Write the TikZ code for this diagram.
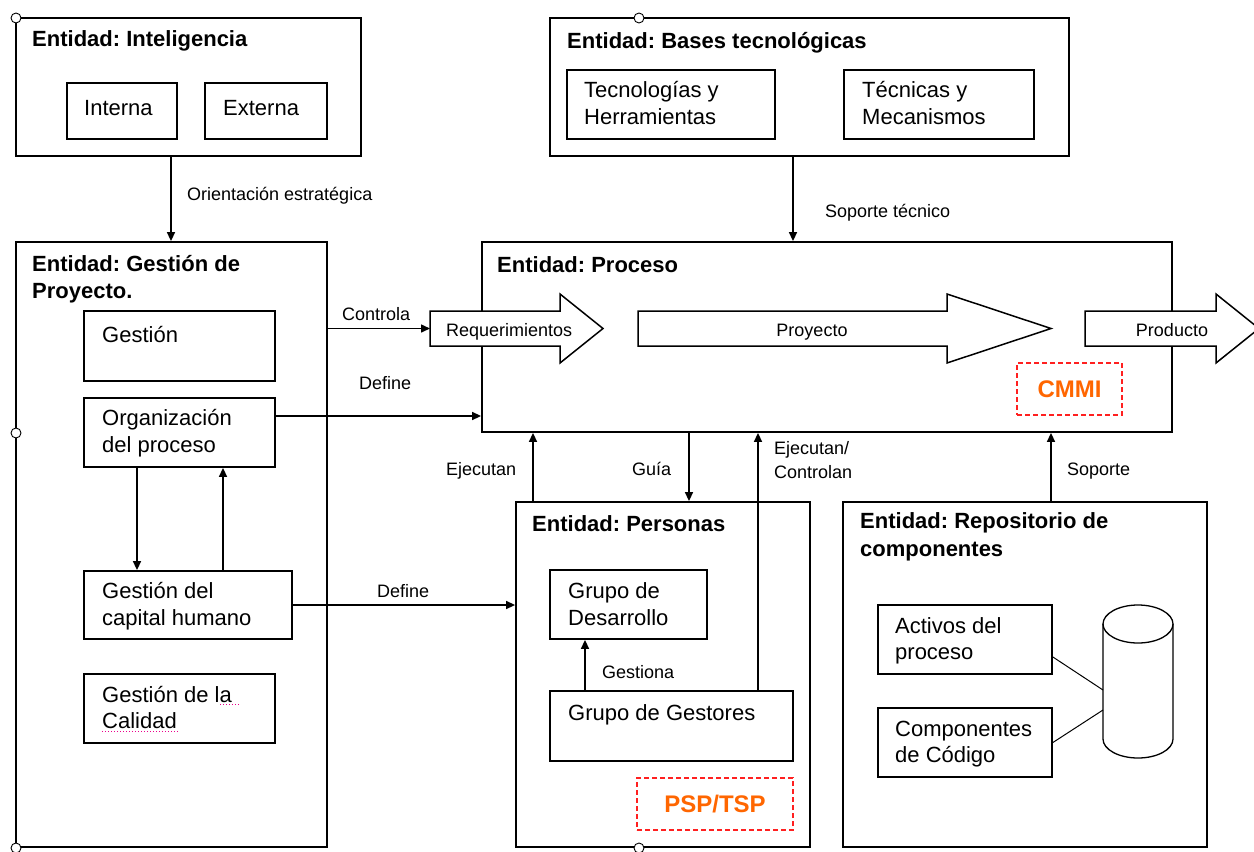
\documentclass[tikz,border=0pt]{standalone}
\usepackage{fontspec}
\setmainfont{Liberation Sans}
\usetikzlibrary{arrows.meta,fit}
\definecolor{orng}{HTML}{FF6600}
\definecolor{dred}{HTML}{FF2020}
\frenchspacing
\begin{document}
\begin{tikzpicture}[x=1pt,y=-1pt,
 box/.style={draw, line width=1.8pt, inner sep=0pt, fill=white},
 dbox/.style={draw=dred, line width=1.4pt, dash pattern=on 5pt off 3pt, inner sep=0pt},
 arr/.style={line width=1.5pt, -{Triangle[length=9pt,width=8pt]}},
 blk/.style={draw, line width=1.5pt, fill=white, line join=miter},
 body/.style={anchor=base west, inner sep=0pt, font=\fontsize{22}{26}\selectfont},
 ttl/.style={anchor=base west, inner sep=0pt, font=\fontsize{22}{26}\selectfont\bfseries},
 lbl/.style={anchor=base west, inner sep=0pt, font=\fontsize{18}{21}\selectfont},
 albl/.style={anchor=base, inner sep=0pt, font=\fontsize{18}{21}\selectfont},
 tag/.style={inner sep=0pt, text=orng, font=\fontsize{24}{28}\selectfont\bfseries},
 hnd/.style={draw, line width=0.9pt, fill=white},
 spell/.style={draw=magenta, line width=1pt, dash pattern=on 1pt off 2pt},
]
\useasboundingbox (0,0) rectangle (1254,852);

% ---------- outer entity boxes ----------
\node[box, fit={(16,18) (361,156)}] (intel) {};
\node[box, fit={(550,18) (1069,156)}] (bases) {};
\node[box, fit={(16,242) (327,847)}] (gestproy) {};
\node[box, fit={(482,242) (1172,432)}] (proceso) {};
\node[box, fit={(516,502) (810,847)}] (personas) {};
\node[box, fit={(843,502) (1207,847)}] (repo) {};

% ---------- inner boxes ----------
\node[box, fit={(67,83) (177,139)}] (interna) {};
\node[box, fit={(205,83) (327,139)}] (externa) {};
\node[box, fit={(567,70) (775,139)}] (tecno) {};
\node[box, fit={(844,70) (1034,139)}] (tecnic) {};
\node[box, fit={(84,311) (275,381)}] (gestion) {};
\node[box, fit={(84,398) (275,467)}] (orga) {};
\node[box, fit={(84,571) (292,639)}] (capital) {};
\node[box, fit={(84,674) (275,743)}] (calidad) {};
\node[box, fit={(550,570) (707,639)}] (desarrollo) {};
\node[box, fit={(550,691) (793,761)}] (gestores) {};
\node[box, fit={(878,605) (1052,674)}] (activos) {};
\node[box, fit={(878,708) (1052,777)}] (compo) {};
\node[dbox, fit={(1017,363) (1122,415)}] (cmmi) {};
\node[dbox, fit={(637,778) (793,830)}] (psp) {};

% ---------- titles ----------
\node[ttl] at (32,46) {Entidad: Inteligencia};
\node[ttl] at (567,48) {Entidad: Bases tecnológicas};
\node[ttl] at (32,271) {Entidad: Gestión de};
\node[ttl] at (32,298) {Proyecto.};
\node[ttl] at (497,272) {Entidad: Proceso};
\node[ttl] at (532,531) {Entidad: Personas};
\node[ttl] at (860,528) {Entidad: Repositorio de};
\node[ttl] at (860,556) {componentes};

% ---------- box texts ----------
\node[body] at (84,115) {Interna};
\node[body] at (223,115) {Externa};
\node[body] at (584,97) {Tecnologías y};
\node[body] at (584,124) {Herramientas};
\node[body] at (862,97) {Técnicas y};
\node[body] at (862,124) {Mecanismos};
\node[body] at (102,342) {Gestión};
\node[body] at (102,425) {Organización};
\node[body] at (102,452) {del proceso};
\node[body] at (102,598) {Gestión del};
\node[body] at (102,625) {capital humano};
\node[body] at (102,702) {Gestión de la};
\node[body] at (102,728) {Calidad};
\draw[spell] (220,704) -- (239,704);
\draw[spell] (102,731) -- (178,731);
\node[body] at (568,598) {Grupo de};
\node[body] at (568,625) {Desarrollo};
\node[body] at (568,720) {Grupo de Gestores};
\node[body] at (895,633) {Activos del};
\node[body] at (895,659) {proceso};
\node[body] at (895,736) {Componentes};
\node[body] at (895,762) {de Código};
\node[tag] at (cmmi.center) {CMMI};
\node[tag] at (psp.center) {PSP/TSP};

% ---------- block arrows in Proceso ----------
\draw[blk] (430,311) -- (560,311) -- (560,294) -- (603,328.5) -- (560,363) -- (560,346) -- (430,346) -- cycle;
\draw[blk] (638,311) -- (947,311) -- (947,294) -- (1051,328.5) -- (947,363) -- (947,346) -- (638,346) -- cycle;
\draw[blk] (1085,311) -- (1216,311) -- (1216,294) -- (1259,328.5) -- (1216,363) -- (1216,346) -- (1085,346) -- cycle;
\coordinate (req) at (430,328.5);
\node[lbl] at (446,336) {Requerimientos};
\node[albl] at (812,336) {Proyecto};
\node[albl] at (1172,336) {Producto};

% ---------- cylinder ----------
\draw[line width=1.3pt] (1138,624) ellipse [x radius=35pt, y radius=19pt];
\draw[line width=1.3pt] (1103,624) -- (1103,739)
  .. controls (1103,749.5) and (1118.7,758) .. (1138,758)
  .. controls (1157.3,758) and (1173,749.5) .. (1173,739) -- (1173,624);
\coordinate (cylA) at (1103,690);
\coordinate (cylB) at (1103,710);

% ---------- connectors ----------
\draw[arr] (171,0 |- intel.south) -- (171,0 |- gestproy.north);
\node[lbl] at (187,200) {Orientación estratégica};
\draw[arr] (793,0 |- bases.south) -- (793,0 |- proceso.north);
\node[lbl] at (825,217) {Soporte técnico};
\draw[arr] (gestproy.east |- req) -- (req);
\node[lbl] at (342,320) {Controla};
\draw[arr] (orga.east |- 0,416) -- (proceso.west |- 0,416);
\node[lbl] at (359,389) {Define};
\draw[arr] (137,0 |- orga.south) -- (137,0 |- capital.north);
\draw[arr] (223,0 |- capital.north) -- (223,0 |- orga.south);
\draw[arr] (capital.east) -- (capital.east -| personas.west);
\node[lbl] at (377,597) {Define};
\draw[arr] (533,0 |- personas.north) -- (533,0 |- proceso.south);
\node[lbl] at (446,475) {Ejecutan};
\draw[arr] (689,0 |- proceso.south) -- (689,0 |- personas.north);
\node[lbl] at (632,475) {Guía};
\draw[arr] (758,0 |- gestores.north) -- (758,0 |- proceso.south);
\node[lbl] at (774,454) {Ejecutan/};
\node[lbl] at (774,478) {Controlan};
\draw[arr] (1051,0 |- repo.north) -- (1051,0 |- proceso.south);
\node[lbl] at (1067,475) {Soporte};
\draw[arr] (585,0 |- gestores.north) -- (585,0 |- desarrollo.south);
\node[lbl] at (602,678) {Gestiona};
\draw[line width=1pt] (activos.east |- 0,657) -- (cylA);
\draw[line width=1pt] (compo.east) -- (cylB);

% ---------- selection handles ----------
\foreach \p in {(16,18),(639,18),(16,433),(16,848),(639,848)}
  \draw[hnd] \p circle[radius=5pt];
\end{tikzpicture}
\end{document}
